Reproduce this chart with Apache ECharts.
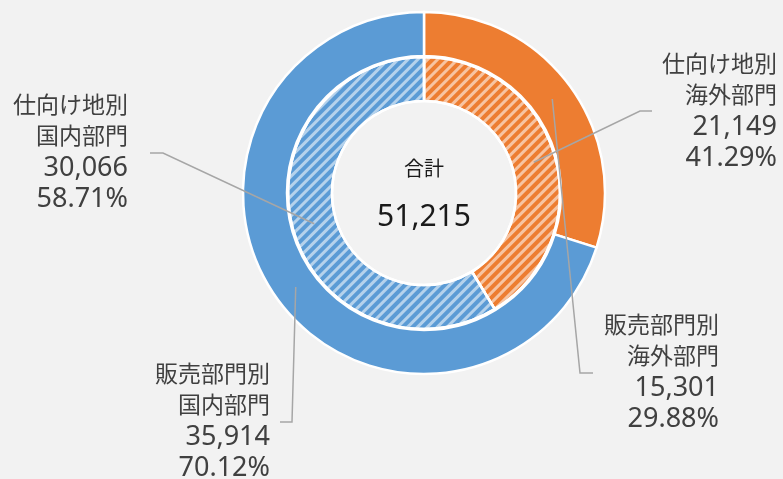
<!DOCTYPE html>
<html>
<head>
<meta charset="utf-8">
<script src="https://cdn.jsdelivr.net/npm/echarts@6/dist/echarts.min.js"></script>
<style>
  html, body { margin:0; padding:0; background:#f2f2f2; }
  #chart { width:783px; height:479px; }
</style>
</head>
<body>
<div id="chart"></div>
<script>
(function(){
  // ---- data ----------------------------------------------------------------
  const departments = ['海外部門', '国内部門'];
  const salesGroup  = '販売部門別';       // outer ring
  const salesValues = [15301, 35914];
  const destGroup   = '仕向け地別';       // inner ring (hatched)
  const destValues  = [21149, 30066];
  const centerTitle = '合計';

  // ---- layout --------------------------------------------------------------
  const CX = 424, CY = 193;
  const OUTER_R = [137, 181];
  const INNER_R = [92, 136];
  const COLORS = ['#ED7D31', '#5B9BD5'];
  const TEXT = '#404040';
  const FONT = '"Noto Sans", "Noto Sans CJK JP", sans-serif';

  // label box (right edge, top) + elbow + end of leader, per ring/data index
  const spots = [
    [ {x:719, y:311, elbow:[580,373], end:[593,373]},
      {x:270, y:360, elbow:[292,422], end:[280,422]} ],
    [ {x:777, y:50,  elbow:[640,111], end:[652,111]},
      {x:128, y:91,  elbow:[163,153], end:[150,153]} ]
  ];
  const radii = [OUTER_R, INNER_R];
  const values = [salesValues, destValues];
  const groups = [salesGroup, destGroup];

  function anchor(ri, di) {
    const vals = values[ri];
    const total = vals.reduce((a, b) => a + b, 0);
    let cum = 0;
    for (let i = 0; i < di; i++) cum += vals[i];
    const t = 2 * Math.PI * (cum + vals[di] / 2) / total;
    const r = (radii[ri][0] + radii[ri][1]) / 2;
    return [CX + r * Math.sin(t), CY - r * Math.cos(t)];
  }

  const fmtNum = (v) => v.toLocaleString('en-US');

  const hatch = {
    symbol: 'rect',
    dashArrayX: [1, 0],
    dashArrayY: [3, 3.5],
    rotation: -Math.PI / 4,
    color: 'rgba(255,255,255,0.55)'
  };

  // visible rings
  function ringSeries(ri, withHatch) {
    return {
      name: groups[ri], type: 'pie', center: [CX, CY], radius: radii[ri],
      startAngle: 90, clockwise: true, z: 2, silent: true,
      itemStyle: { borderColor: '#fff', borderWidth: 2.5 },
      label: { show: false }, labelLine: { show: false },
      emphasis: { disabled: true },
      data: departments.map((d, i) => ({ name: d, value: values[ri][i],
        itemStyle: withHatch ? { color: COLORS[i], decal: hatch } : { color: COLORS[i] } }))
    };
  }

  // transparent copies that only carry labels + leaders, drawn above all rings
  function labelSeries(ri) {
    return {
      name: groups[ri] + ' label', type: 'pie', center: [CX, CY], radius: radii[ri],
      startAngle: 90, clockwise: true, z: 5, silent: true, avoidLabelOverlap: false,
      itemStyle: { color: 'rgba(0,0,0,0)', borderWidth: 0 },
      label: {
        show: true, position: 'outside', align: 'right',
        formatter: (p) => `{n|${groups[ri]}}\n{n|${p.name}}\n{v|${fmtNum(p.value)}}\n{v|${p.percent.toFixed(2)}%}`,
        rich: {
          n: { fontFamily: FONT, fontSize: 23, color: TEXT, lineHeight: 31, align: 'right' },
          v: { fontFamily: FONT, fontSize: 27, color: TEXT, lineHeight: 31, align: 'right' }
        }
      },
      labelLine: { show: true, showAbove: true, lineStyle: { color: '#a6a6a6', width: 1.5 } },
      labelLayout: (params) => {
        const s = spots[ri][params.dataIndex];
        return { x: s.x, y: s.y, align: 'right', verticalAlign: 'top',
                 labelLinePoints: [anchor(ri, params.dataIndex), s.elbow, s.end] };
      },
      emphasis: { disabled: true },
      data: departments.map((d, i) => ({ name: d, value: values[ri][i] }))
    };
  }

  const chart = echarts.init(document.getElementById('chart'), null, { renderer: 'canvas' });
  const totalAll = salesValues.reduce((a, b) => a + b, 0);

  chart.setOption({
    backgroundColor: '#f2f2f2',
    animation: false,
    graphic: [
      { type:'text', x: CX, y: 170, style: { text: centerTitle, fontFamily: FONT, fontSize: 20,
          fill: '#1a1a1a', align: 'center', verticalAlign: 'middle' } },
      { type:'text', x: CX, y: 217, style: { text: fmtNum(totalAll), fontFamily: FONT, fontSize: 30,
          fill: '#1a1a1a', align: 'center', verticalAlign: 'middle' } }
    ],
    series: [ ringSeries(0, false), ringSeries(1, true), labelSeries(0), labelSeries(1) ]
  });
})();
</script>
</body>
</html>
